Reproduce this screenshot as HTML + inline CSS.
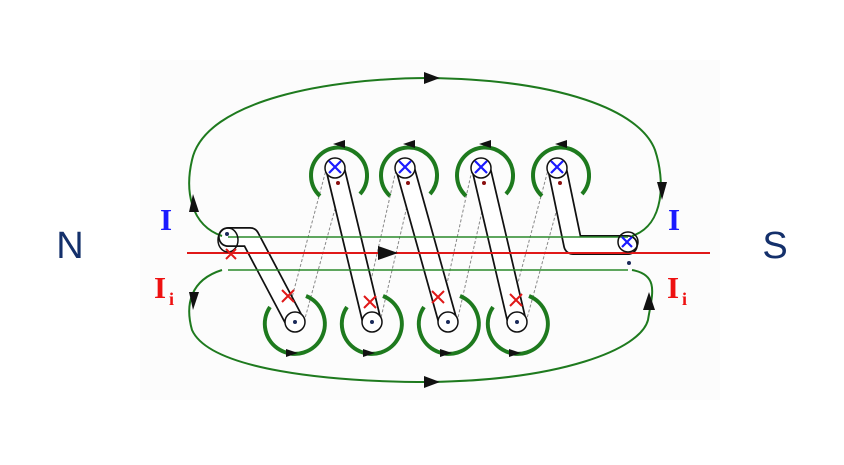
<!DOCTYPE html>
<html><head><meta charset="utf-8"><style>
html,body{margin:0;padding:0;background:#fff;width:844px;height:465px;overflow:hidden}
</style></head><body>
<svg width="844" height="465" viewBox="0 0 844 465" xmlns="http://www.w3.org/2000/svg">
<rect x="140" y="60" width="580" height="340" fill="#fcfcfc"/>
<text x="70" y="258" font-family="Liberation Sans, sans-serif" font-size="38" fill="#14306b" text-anchor="middle">N</text>
<text x="775" y="258" font-family="Liberation Sans, sans-serif" font-size="38" fill="#14306b" text-anchor="middle">S</text>
<g font-family="Liberation Serif, serif" font-weight="bold" font-size="31">
<text x="160" y="230" fill="#1a1aff">I</text>
<text x="154" y="298" fill="#ee1111">I</text><text x="169" y="305" fill="#ee1111" font-size="18">i</text>
<text x="668" y="230" fill="#1a1aff">I</text>
<text x="667" y="298" fill="#ee1111">I</text><text x="682" y="305" fill="#ee1111" font-size="18">i</text>
</g>
<g stroke="#888" stroke-width="1" stroke-dasharray="3,2" fill="none">
<path d="M286 320 L326 170 M304 322 L344 176"/>
<path d="M362 320 L396 170 M380 322 L414 176"/>
<path d="M439 320 L472 170 M457 322 L490 176"/>
<path d="M508 320 L548 170 M526 322 L566 176"/>
</g>
<g fill="none" stroke-linecap="round" stroke-linejoin="round">
<g stroke="#111" stroke-width="20">
<path d="M228 237 L250 237 L295 322"/>
<path d="M335 168 L372 322"/>
<path d="M405 168 L448 322"/>
<path d="M481 168 L517 322"/>
<path d="M557 168 L573 245 L628 245"/>
</g>
<g stroke="#fff" stroke-width="16.5">
<path d="M228 237 L250 237 L295 322"/>
<path d="M335 168 L372 322"/>
<path d="M405 168 L448 322"/>
<path d="M481 168 L517 322"/>
<path d="M557 168 L573 245 L628 245"/>
</g>
</g>
<g stroke="#2a8a2a" stroke-width="1.6" fill="none">
<line x1="228" y1="237" x2="628" y2="237"/>
<line x1="228" y1="270" x2="628" y2="270"/>
</g>
<line x1="187" y1="253" x2="710" y2="253" stroke="#e01818" stroke-width="2"/>
<path d="M378 246 L398 253 L378 260 z" fill="#111"/>
<g stroke="#1e7a1e" stroke-width="2" fill="none">
<path d="M222 236 C190 225 185 190 192 160 C205 100 330 78 430 78 C560 80 640 110 655 150 C665 180 665 225 632 236"/>
<path d="M222 270 C190 280 185 305 192 330 C210 370 330 382 430 382 C560 380 640 350 648 320 C652 295 660 275 632 270"/>
</g>
<path d="M424 72 L440 78 L424 84 z" fill="#111"/>
<path d="M424 376 L440 382 L424 388 z" fill="#111"/>
<path d="M189 212 L193 194 L199 212 z" fill="#111"/>
<path d="M189 292 L193 310 L199 292 z" fill="#111"/>
<path d="M657 182 L662 200 L667 182 z" fill="#111"/>
<path d="M643 310 L649 292 L655 310 z" fill="#111"/>
<g stroke="#1e7a1e" stroke-width="4" fill="none">
<path d="M320 196 A28 28 0 1 1 360 194"/>
<path d="M390 196 A28 28 0 1 1 430 194"/>
<path d="M466 196 A28 28 0 1 1 506 194"/>
<path d="M542 196 A28 28 0 1 1 582 194"/>
<path d="M270 307 A30 30 0 1 0 306 296"/>
<path d="M347 307 A30 30 0 1 0 383 296"/>
<path d="M424 307 A30 30 0 1 0 460 296"/>
<path d="M493 307 A30 30 0 1 0 529 296"/>
</g>
<g fill="#111">
<path d="M345 140 L333 144 L345 148 z"/><path d="M415 140 L403 144 L415 148 z"/>
<path d="M491 140 L479 144 L491 148 z"/><path d="M567 140 L555 144 L567 148 z"/>
<path d="M286 349 L298 353 L286 357 z"/><path d="M363 349 L375 353 L363 357 z"/>
<path d="M440 349 L452 353 L440 357 z"/><path d="M509 349 L521 353 L509 357 z"/>
</g>
<g fill="#fff" stroke="#111" stroke-width="1.5">
<circle cx="335" cy="168" r="10"/><circle cx="405" cy="168" r="10"/>
<circle cx="481" cy="168" r="10"/><circle cx="557" cy="168" r="10"/>
<circle cx="295" cy="322" r="10"/><circle cx="372" cy="322" r="10"/>
<circle cx="448" cy="322" r="10"/><circle cx="517" cy="322" r="10"/>
<ellipse cx="228" cy="240" rx="10" ry="12" fill="none"/>
<circle cx="628" cy="242" r="10" fill="none"/>
</g>
<g stroke="#1a1aff" stroke-width="2.2">
<path d="M329 161 L341 173 M341 161 L329 173"/><path d="M399 161 L411 173 M411 161 L399 173"/>
<path d="M475 161 L487 173 M487 161 L475 173"/><path d="M551 161 L563 173 M563 161 L551 173"/>
<path d="M622 237 L632 247 M632 237 L622 247"/>
</g>
<g fill="#1a2a5a">
<circle cx="295" cy="322" r="2"/><circle cx="372" cy="322" r="2"/><circle cx="448" cy="322" r="2"/><circle cx="517" cy="322" r="2"/>
<circle cx="227" cy="234" r="2"/><circle cx="629" cy="263" r="2"/>
</g>
<g fill="#8a1010"><circle cx="338" cy="183" r="2"/><circle cx="408" cy="183" r="2"/><circle cx="484" cy="183" r="2"/><circle cx="560" cy="183" r="2"/></g>
<g stroke="#e01818" stroke-width="2">
<path d="M226 249 L236 259 M236 249 L226 259"/>
<path d="M282 290 L294 302 M294 290 L282 302"/>
<path d="M364 296 L376 308 M376 296 L364 308"/>
<path d="M432 291 L444 303 M444 291 L432 303"/>
<path d="M510 294 L522 306 M522 294 L510 306"/>
</g>
</svg>
</body></html>
